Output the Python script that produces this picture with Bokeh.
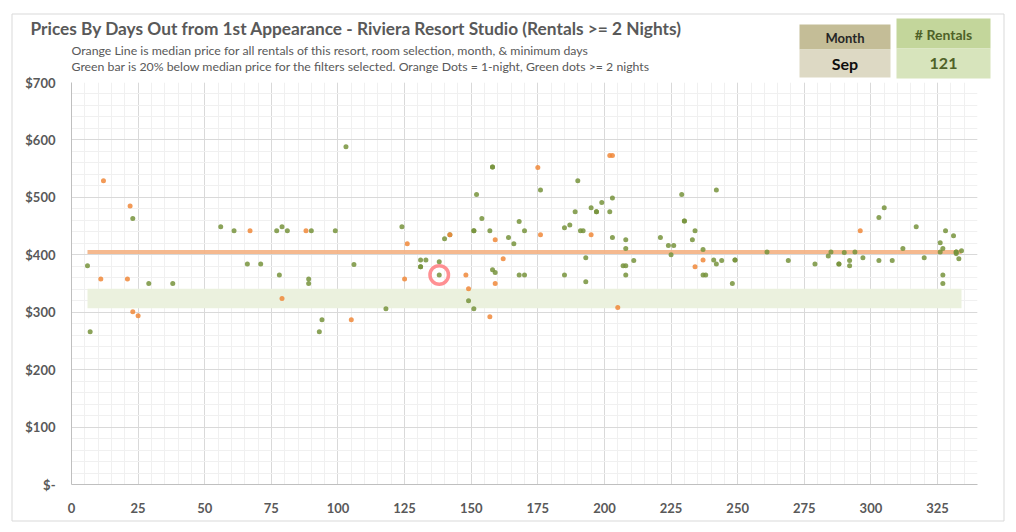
from bokeh.plotting import figure
from bokeh.models import FixedTicker, Range1d
from bokeh.core.properties import value
from bokeh.embed import file_html
from bokeh.resources import INLINE

# ---------------- data ----------------
green_days = [6, 7, 23, 29, 38, 56, 61, 66, 71, 77, 78, 79, 81, 89, 89, 90, 93, 94, 99, 103,
              106, 118, 124, 131, 131, 131, 133, 138, 138, 140, 142, 149, 151, 151, 151, 152, 154, 157, 158, 158,
              158, 159, 164, 166, 168, 168, 170, 170, 176, 185, 185, 187, 189, 190, 191, 192, 193, 193, 195, 197,
              197, 199, 202, 203, 203, 207, 208, 208, 208, 208, 211, 221, 224, 225, 226, 229, 230, 230, 233, 234,
              237, 237, 238, 241, 242, 242, 244, 248, 249, 249, 261, 269, 279, 284, 285, 288, 288, 290, 292, 292,
              294, 297, 303, 305, 303, 308, 312, 317, 320, 326, 327, 326, 328, 327, 327, 331, 332, 332, 332, 334,
              333]
green_prices = [381, 266, 463, 350, 350, 449, 442, 384, 384, 442, 365, 449, 442, 358, 350, 442, 266, 287, 442, 588,
                383, 306, 449, 391, 379, 379, 391, 388, 365, 428, 435, 320, 306, 442, 442, 505, 463, 442, 553, 553,
                374, 369, 430, 419, 458, 365, 442, 365, 513, 447, 365, 452, 475, 529, 442, 442, 395, 353, 482, 475,
                475, 491, 475, 499, 430, 381, 381, 426, 411, 365, 390, 430, 416, 400, 416, 505, 459, 459, 426, 442,
                409, 365, 365, 391, 384, 513, 390, 350, 391, 391, 405, 390, 384, 398, 405, 384, 384, 404, 390, 381,
                405, 395, 465, 482, 390, 390, 411, 449, 395, 421, 411, 405, 442, 365, 350, 433, 405, 405, 402, 407,
                393]
orange_days = [11, 12, 21, 22, 23, 25, 67, 79, 88, 105, 125, 126, 142, 148, 149, 157, 159, 159, 162, 175,
               176, 195, 202, 203, 205, 234, 237, 296]
orange_prices = [358, 529, 358, 485, 301, 294, 442, 324, 442, 287, 358, 419, 435, 365, 341, 292, 426, 350, 393, 552,
                 435, 435, 573, 573, 308, 379, 391, 442]
median_price = 405
band_low = 307
band_high = 341
highlight_day = [138]
highlight_price = [365]
month = "Sep"
rentals = len(green_days)

x_ticks = list(range(0, 326, 25))
x_tick_labels = [str(t) for t in x_ticks]
y_ticks = [0, 100, 200, 300, 400, 500, 600, 700]
y_tick_labels = ["$-", "$100", "$200", "$300", "$400", "$500", "$600", "$700"]

title_text = "Prices By Days Out from 1st Appearance - Riviera Resort Studio (Rentals >= 2 Nights)"
sub1 = "Orange Line is median price for all rentals of this resort, room selection, month, & minimum days"
sub2 = "Green bar is 20% below median price for the filters selected. Orange Dots = 1-night, Green dots >= 2 nights"

FONT = "Lato"
TXT = "#595959"
BORDER = "#D9D9D9"

W, H = 1006, 522
L, R, T, B = 71, 29, 82, 38

# ---------------- backdrop: frame, title, notes, info boxes (pixel space) ----------------
bg = figure(width=W, height=H, x_range=Range1d(0, W), y_range=Range1d(H, 0),
            output_backend="svg", toolbar_location=None, min_border=0,
            x_axis_type=None, y_axis_type=None)
bg.background_fill_color = "white"
bg.border_fill_color = "white"
bg.outline_line_color = None
bg.xgrid.visible = False
bg.ygrid.visible = False

bg.quad(left=[11.5], right=[1003.5], top=[13.5], bottom=[520.5],
        fill_color=None, line_color=BORDER, line_width=1)
bg.quad(left=[799, 799, 896, 896], right=[890, 890, 990, 990],
        top=[24, 49, 18, 48], bottom=[49, 77, 48, 78],
        fill_color=["#C4BD97", "#DDD9C4", "#C3D69B", "#D7E4BC"], line_color=None)


def btext(x, y, t, size, color, style="bold", align="left"):
    bg.text(x=[x], y=[y], text=[t], text_align=align, text_baseline="middle",
            text_font=value(FONT), text_font_style=style, text_font_size=size, text_color=color)


btext(30, 28, title_text, "17.3px", TXT)
btext(71, 50, sub1, "12.3px", TXT, style="normal")
btext(71, 66, sub2, "12.3px", TXT, style="normal")
btext(844.5, 37, "Month", "13px", "#262626", align="center")
btext(844.5, 63, month, "16px", "#0D0D0D", align="center")
btext(943, 34, "# Rentals", "14px", "#4F6228", align="center")
btext(943, 63, str(rentals), "16px", "#4F6228", align="center")

# ---------------- main chart, overlaid on the backdrop ----------------
p = figure(width=W, height=H, x_range=(0, 340), y_range=(0, 700),
           output_backend="svg", toolbar_location=None, margin=(-H, 0, 0, 0),
           min_border_left=L, min_border_right=R, min_border_top=T, min_border_bottom=B)
p.background_fill_color = "white"
p.border_fill_alpha = 0
p.outline_line_color = None

p.xaxis.ticker = FixedTicker(ticks=x_ticks, minor_ticks=list(range(0, 341, 5)))
p.yaxis.ticker = FixedTicker(ticks=y_ticks, minor_ticks=list(range(0, 701, 20)))
p.xaxis.major_label_overrides = dict(zip(x_ticks, x_tick_labels))
p.yaxis.major_label_overrides = dict(zip(y_ticks, y_tick_labels))
for ax in (p.xaxis, p.yaxis):
    ax.axis_line_color = "#BFBFBF"
    ax.major_tick_line_color = None
    ax.minor_tick_line_color = None
    ax.major_label_text_font = FONT
    ax.major_label_text_font_style = "bold"
    ax.major_label_text_font_size = "13px"
    ax.major_label_text_color = TXT
p.yaxis.major_label_standoff = 10
p.xaxis.major_label_standoff = 12
for g in (p.xgrid, p.ygrid):
    g.grid_line_color = "#D9D9D9"
    g.minor_grid_line_color = "#F0F0F0"

all_days = green_days + orange_days
dmin, dmax = min(all_days), max(all_days)
p.quad(left=[dmin], right=[dmax], bottom=[band_low], top=[band_high],
       fill_color="#EBF1DE", line_color=None)
p.segment(x0=[dmin], x1=[dmax], y0=[median_price], y1=[median_price],
          line_color="#F4B183", line_width=4, line_alpha=0.9)

p.scatter(green_days, green_prices, marker="circle", size=5,
          fill_color="#77933C", fill_alpha=0.85, line_color=None)
p.scatter(orange_days, orange_prices, marker="circle", size=5,
          fill_color="#F0883A", fill_alpha=0.85, line_color=None)
p.scatter(highlight_day, highlight_price, marker="circle", size=18.5,
          fill_color=None, line_color="#FF7C80", line_width=3.5, line_alpha=0.85)

open("out.html", "w").write(file_html([bg, p], INLINE))
